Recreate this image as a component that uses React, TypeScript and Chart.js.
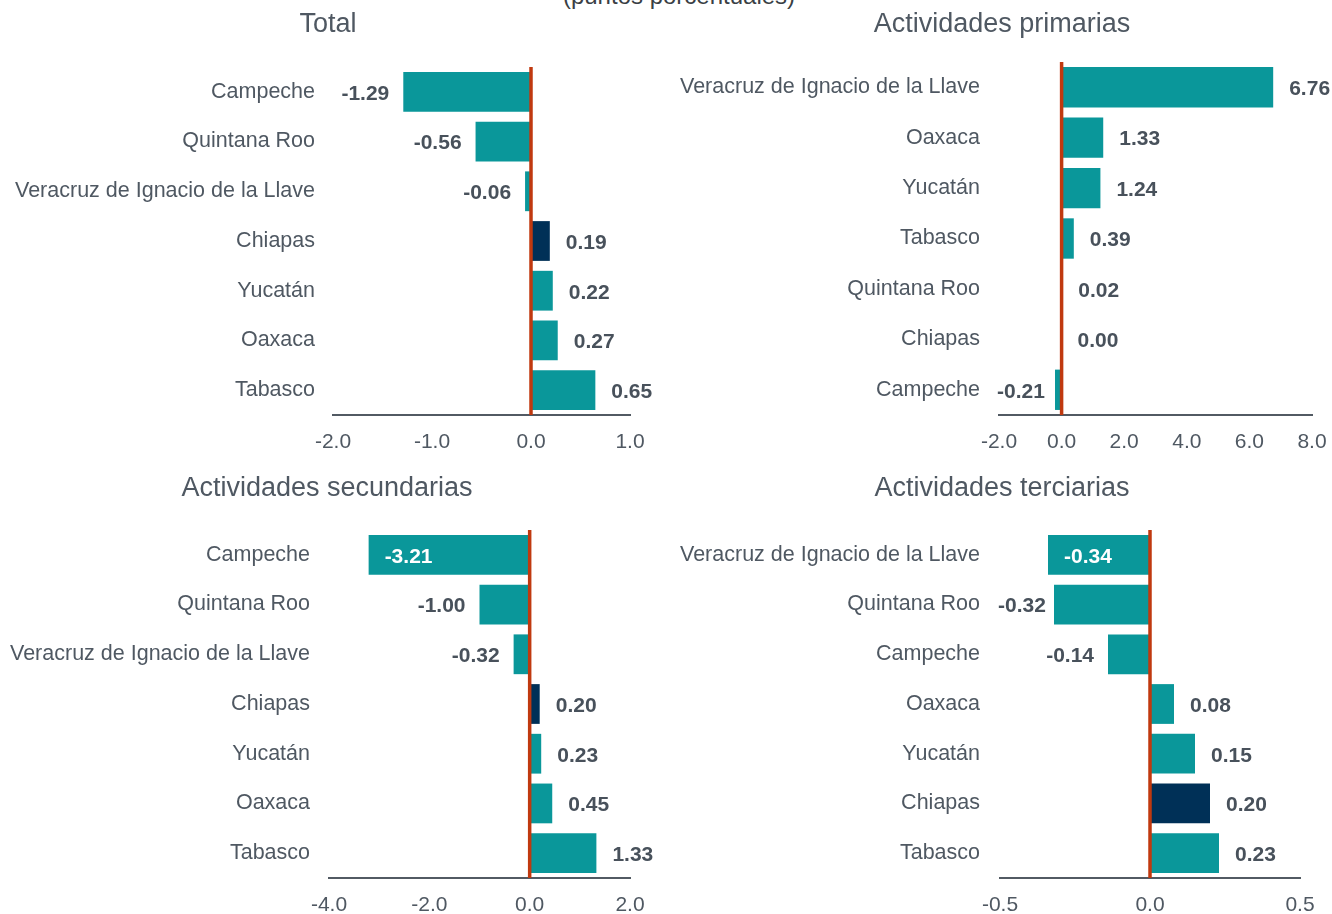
import React, { useEffect, useRef } from "react";
import { Chart, registerables } from "chart.js";

Chart.register(...registerables);

// ---------- DATA ----------
const totalCategories = ["Campeche", "Quintana Roo", "Veracruz de Ignacio de la Llave", "Chiapas", "Yucatán", "Oaxaca", "Tabasco"];
const totalValues = [-1.29, -0.56, -0.06, 0.19, 0.22, 0.27, 0.65];

const primariasCategories = ["Veracruz de Ignacio de la Llave", "Oaxaca", "Yucatán", "Tabasco", "Quintana Roo", "Chiapas", "Campeche"];
const primariasValues = [6.76, 1.33, 1.24, 0.39, 0.02, 0.0, -0.21];

const secundariasCategories = ["Campeche", "Quintana Roo", "Veracruz de Ignacio de la Llave", "Chiapas", "Yucatán", "Oaxaca", "Tabasco"];
const secundariasValues = [-3.21, -1.0, -0.32, 0.2, 0.23, 0.45, 1.33];

const terciariasCategories = ["Veracruz de Ignacio de la Llave", "Quintana Roo", "Campeche", "Oaxaca", "Yucatán", "Chiapas", "Tabasco"];
const terciariasValues = [-0.34, -0.32, -0.14, 0.08, 0.15, 0.2, 0.23];

const totalAxisRange = [-2, 1, 1];
const primariasAxisRange = [-2, 8, 2];
const secundariasAxisRange = [-4, 2, 2];
const terciariasAxisRange = [-0.5, 0.5, 0.5];

const highlightedState = "Chiapas";
const subtitleText = "(puntos porcentuales)";

// ---------- STYLE ----------
const FONT = "'Liberation Sans', Arial, Helvetica, sans-serif";
const TEAL = "#0A979A";
const NAVY = "#003057";
const ZERO_LINE = "#C0390F";
const AXIS_LINE = "#525A63";
const TEXT = "#4F5862";
const LABEL_TEXT = "#48515B";

type Panel = {
  title: string;
  categories: string[];
  values: number[];
  range: number[];
  left: number;
  top: number;
  titleShift: number;
  yAxisWidth: number;
  padRight: number;
  xAxisHeight: number;
  titlePadTop: number;
  titlePadBottom: number;
  tickPad: number;
};

const W = 666;
const H = 457;

const panels: Panel[] = [
  { title: "Total", categories: totalCategories, values: totalValues, range: totalAxisRange,
    left: 0, top: 0, titleShift: 13, yAxisWidth: 333, padRight: 36, xAxisHeight: 42, titlePadTop: 8.8, titlePadBottom: 25.8, tickPad: 18 },
  { title: "Actividades primarias", categories: primariasCategories, values: primariasValues, range: primariasAxisRange,
    left: 666, top: 0, titleShift: 13, yAxisWidth: 333, padRight: 20, xAxisHeight: 42, titlePadTop: 8.8, titlePadBottom: 20.8, tickPad: 19 },
  { title: "Actividades secundarias", categories: secundariasCategories, values: secundariasValues, range: secundariasAxisRange,
    left: 0, top: 457, titleShift: 12, yAxisWidth: 329, padRight: 36, xAxisHeight: 36, titlePadTop: 15.8, titlePadBottom: 24.8, tickPad: 19 },
  { title: "Actividades terciarias", categories: terciariasCategories, values: terciariasValues, range: terciariasAxisRange,
    left: 666, top: 457, titleShift: 19, yAxisWidth: 334, padRight: 32, xAxisHeight: 36, titlePadTop: 15.8, titlePadBottom: 24.8, tickPad: 20 },
];

const zeroAndLabelsPlugin = {
  id: "zeroAndLabels",
  afterLayout(chart: any) {
    const shift = chart.$titleShift || 0;
    const tb = chart.titleBlock;
    if (tb && shift) {
      tb.left += shift;
      tb.right += shift;
    }
  },
  afterDatasetsDraw(chart: any) {
    const { ctx, chartArea, scales } = chart;
    const x0 = scales.x.getPixelForValue(0);
    ctx.save();
    ctx.strokeStyle = ZERO_LINE;
    ctx.lineWidth = 3.5;
    ctx.beginPath();
    ctx.moveTo(x0, chartArea.top);
    ctx.lineTo(x0, chartArea.bottom);
    ctx.stroke();

    const meta = chart.getDatasetMeta(0);
    const data = chart.data.datasets[0].data as number[];
    ctx.font = `bold 21px ${FONT}`;
    ctx.textBaseline = "middle";
    meta.data.forEach((bar: any, i: number) => {
      const v = data[i];
      const text = v.toFixed(2);
      const w = ctx.measureText(text).width;
      const y = bar.y + 2;
      if (v >= 0) {
        let tx = Math.max(bar.x, x0) + 16;
        if (tx + w > chart.width - 1) tx = chart.width - 1 - w;
        ctx.fillStyle = LABEL_TEXT;
        ctx.textAlign = "left";
        ctx.fillText(text, tx, y);
      } else {
        let right = bar.x - 14;
        if (right - w < chartArea.left - 2) right = chartArea.left - 2 + w;
        if (right > bar.x - 5) {
          ctx.fillStyle = "#FFFFFF";
          ctx.textAlign = "left";
          ctx.fillText(text, bar.x + 16, y);
        } else {
          ctx.fillStyle = LABEL_TEXT;
          ctx.textAlign = "right";
          ctx.fillText(text, right, y);
        }
      }
    });
    ctx.restore();
  },
};

function PanelChart({ p }: { p: Panel }) {
  const ref = useRef<HTMLCanvasElement | null>(null);
  useEffect(() => {
    if (!ref.current) return;
    const chart: any = new Chart(ref.current, {
      type: "bar",
      data: {
        labels: p.categories,
        datasets: [
          {
            data: p.values,
            backgroundColor: (c: any) => (p.categories[c.dataIndex] === highlightedState ? NAVY : TEAL),
            borderWidth: 0,
            barPercentage: 0.8,
            categoryPercentage: 1,
          },
        ],
      },
      options: {
        indexAxis: "y",
        responsive: false,
        animation: false,
        devicePixelRatio: 1,
        layout: { autoPadding: false, padding: { left: 0, right: p.padRight, top: 0, bottom: 0 } },
        plugins: {
          legend: { display: false },
          tooltip: { enabled: false },
          title: {
            display: true,
            text: p.title,
            color: TEXT,
            font: { family: FONT, size: 27, weight: "normal", lineHeight: 1.2 },
            padding: { top: p.titlePadTop, bottom: p.titlePadBottom },
          },
        },
        scales: {
          x: {
            type: "linear",
            min: p.range[0],
            max: p.range[1],
            grid: { display: false, drawTicks: false },
            border: { display: true, color: AXIS_LINE, width: 2 },
            ticks: {
              stepSize: p.range[2],
              padding: 15,
              color: TEXT,
              font: { family: FONT, size: 21 },
              callback: (v: any) => Number(v).toFixed(1),
            },
            afterFit: (s: any) => {
              s.height = p.xAxisHeight;
              s.paddingLeft = 0;
              s.paddingRight = 0;
            },
          },
          y: {
            type: "category",
            grid: { display: false, drawTicks: false },
            border: { display: false },
            ticks: {
              padding: p.tickPad,
              color: TEXT,
              font: { family: FONT, size: 21.5 },
              autoSkip: false,
            },
            afterFit: (s: any) => {
              s.width = p.yAxisWidth;
              s.paddingTop = 0;
              s.paddingBottom = 0;
            },
          },
        },
      } as any,
      plugins: [
        {
          id: "titleShiftSetup",
          beforeInit(c: any) {
            c.$titleShift = p.titleShift;
          },
        },
        zeroAndLabelsPlugin,
      ],
    });
    chart.$titleShift = p.titleShift;
    chart.draw();
    return () => chart.destroy();
  }, [p]);
  return (
    <canvas
      ref={ref}
      width={W}
      height={H}
      style={{ position: "absolute", left: p.left, top: p.top, width: W, height: H }}
    />
  );
}

export default function App() {
  return (
    <div style={{ position: "absolute", left: 0, top: 0, width: 1332, height: 914, overflow: "hidden", background: "#fff" }}>
      <div
        style={{
          position: "absolute",
          left: 0,
          width: 1358,
          top: -18,
          textAlign: "center",
          fontFamily: FONT,
          fontSize: 24,
          lineHeight: "28px",
          color: "#3A3F45",
        }}
      >
        {subtitleText}
      </div>
      {panels.map((p, i) => (
        <PanelChart key={i} p={p} />
      ))}
    </div>
  );
}
